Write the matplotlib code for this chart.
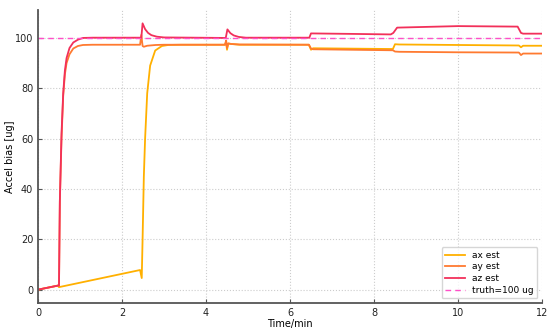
import matplotlib
matplotlib.use("Agg")
import matplotlib.pyplot as plt

# ---- data ----
ax_t = [0, 0.47, 0.5, 2.43, 2.47, 2.49, 2.52, 2.55, 2.6, 2.67, 2.79, 2.95, 3.1, 3.4,
        4.45, 4.48, 4.5, 4.53, 4.6, 4.8, 6.45, 6.5, 6.55, 8.45, 8.5, 8.6, 10.0,
        11.45, 11.5, 11.55, 12.0]
ax_v = [0, 1.6, 1.0, 7.8, 4.6, 20, 45, 60, 78, 89, 95, 96.8, 97.2, 97.3,
        97.3, 98.3, 95.3, 97.8, 97.6, 97.3, 97.3, 95.3, 95.9, 95.6, 97.5, 97.4, 97.2,
        97.0, 96.3, 96.9, 96.9]

ay_t = [0, 0.47, 0.5, 0.52, 0.56, 0.6, 0.64, 0.68, 0.75, 0.84, 0.95, 1.07, 1.3,
        2.43, 2.46, 2.49, 2.52, 2.6, 2.8, 3.0, 4.45, 4.48, 4.5, 4.53, 4.6, 4.8,
        6.45, 6.5, 6.55, 8.45, 8.5, 8.6, 10.0, 11.45, 11.5, 11.55, 12.0]
ay_v = [0, 1.6, 1.6, 35, 60, 77, 85.5, 90, 93.5, 95.8, 96.8, 97.2, 97.3,
        97.3, 101.2, 96.8, 96.5, 96.9, 97.2, 97.3, 97.3, 99.0, 96.0, 97.8, 97.6, 97.4,
        97.3, 95.8, 95.5, 95.1, 94.6, 94.5, 94.3, 94.2, 93.2, 93.8, 93.8]

az_t = [0, 0.47, 0.5, 0.52, 0.56, 0.6, 0.64, 0.68, 0.75, 0.84, 0.95, 1.07, 1.3,
        2.46, 2.49, 2.55, 2.62, 2.7, 2.83, 3.0, 4.47, 4.51, 4.58, 4.66, 4.78, 4.95,
        6.46, 6.5, 7.5, 8.4, 8.46, 8.55, 10.0, 11.42, 11.5, 11.55, 12.0]
az_v = [0, 1.6, 1.6, 35, 62, 78, 87, 92, 96, 98.2, 99.3, 100.0, 100.1,
        100.1, 105.8, 103.5, 102.0, 101.1, 100.5, 100.2, 100.0, 103.4, 101.9, 101.0, 100.4, 100.1,
        100.1, 101.8, 101.6, 101.4, 102.0, 104.1, 104.7, 104.5, 102.0, 101.7, 101.7]

truth = 100
labels = ["ax est", "ay est", "az est", "truth=100 ug"]
colors = ["#FFB000", "#FF7A30", "#F2305A", "#FF4FC8"]

fig = plt.figure(figsize=(5.5, 3.31), dpi=100)
ax = fig.add_axes([38/550, 28/331, 504/550, 293/331])

ax.plot(ax_t, ax_v, color=colors[0], lw=1.3, label=labels[0])
ax.plot(ay_t, ay_v, color=colors[1], lw=1.3, label=labels[1])
ax.plot(az_t, az_v, color=colors[2], lw=1.3, label=labels[2])
ax.axhline(truth, color=colors[3], lw=1.0, ls=(0, (4, 3)), label=labels[3])

ax.set_xlim(0, 12)
ax.set_ylim(-5.3, 111.1)
ax.set_xticks([0, 2, 4, 6, 8, 10, 12])
ax.set_yticks([0, 20, 40, 60, 80, 100])
ax.grid(True, ls=":", color="#cccccc", lw=0.8)
for s in ["top", "right"]:
    ax.spines[s].set_visible(False)
for s in ["left", "bottom"]:
    ax.spines[s].set_color("#555555")
    ax.spines[s].set_linewidth(1.3)
ax.tick_params(labelsize=7, length=3, color="#555555", labelcolor="#222222", direction="in")
ax.set_xlabel("Time/min", fontsize=7, labelpad=1)
ax.set_ylabel("Accel bias [ug]", fontsize=7)
ax.yaxis.set_label_coords(-0.045, 0.5)
leg = ax.legend(loc="lower right", fontsize=6.5, frameon=True, handlelength=2.2,
                borderpad=0.4, labelspacing=0.3)
leg.get_frame().set_edgecolor("#cccccc")

fig.savefig("out.png", dpi=100)
